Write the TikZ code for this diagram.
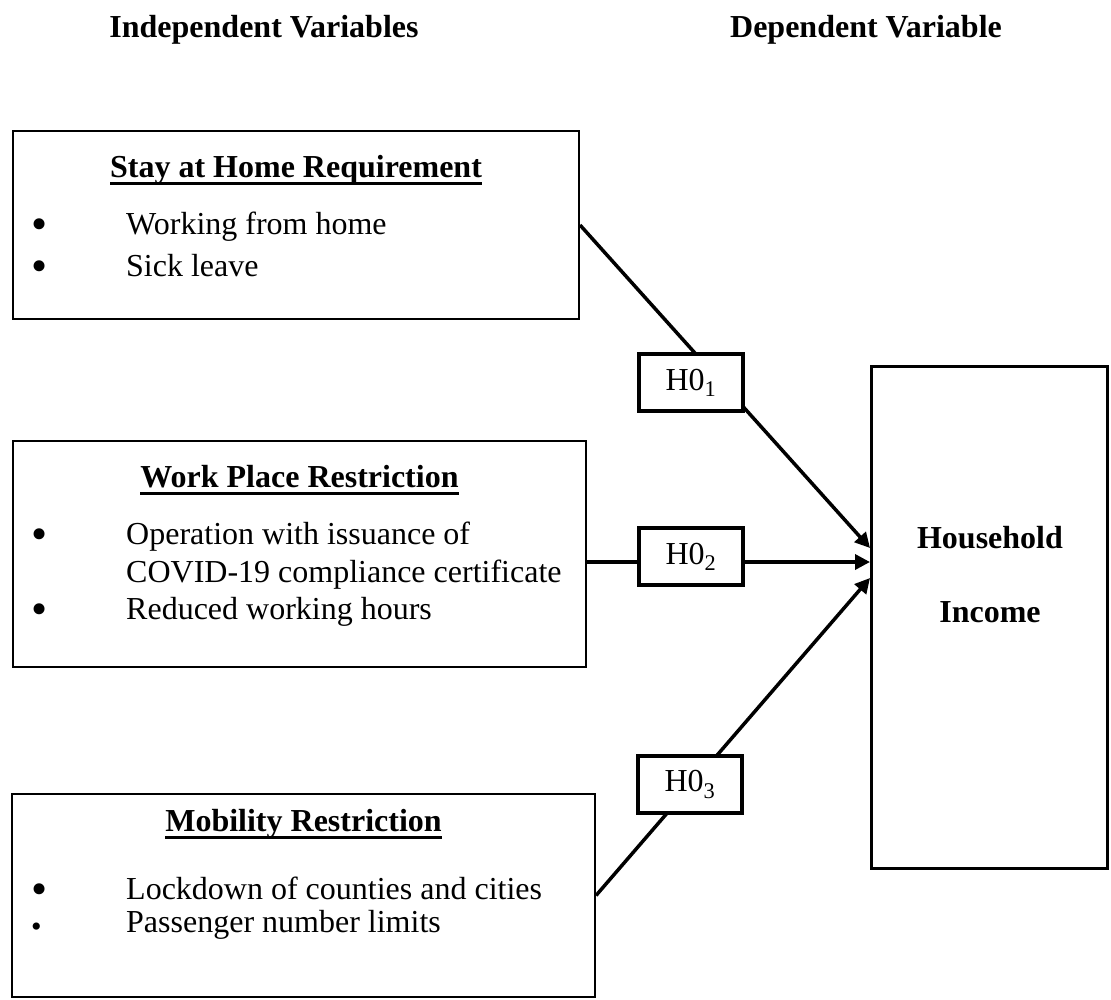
\documentclass[tikz,border=0pt]{standalone}
\usepackage{fontspec}
\setmainfont{Liberation Serif}
\usetikzlibrary{arrows.meta, positioning, calc}
\newcommand{\ulbold}[1]{\setbox0\hbox{#1}\rlap{\rule[-8pt]{\wd0}{3pt}}\box0}
\newcommand{\bul}{\makebox[95pt][l]{\smash{\raisebox{-5pt}{\fontsize{46}{46}\selectfont\textbullet}}}}
\newcommand{\smallbul}{\makebox[95pt][l]{\smash{\raisebox{-4pt}{\fontsize{30}{30}\selectfont\textbullet}}}}

\begin{document}
\begin{tikzpicture}[
        x=1pt, y=-1pt,
        every node/.style={inner sep=0pt, font=\fontsize{32}{37.5}\selectfont},
        varbox/.style={
            rectangle,
            draw=black,
            line width=2pt
        },
        hypbox/.style={
            rectangle,
            draw=black,
            fill=white,
            line width=4pt,
            minimum width=104pt,
            minimum height=57pt
        },
        head/.style={font=\fontsize{32}{37.5}\selectfont\bfseries},
        item/.style={anchor=west},
        arrow/.style={-{Triangle[length=15pt,width=15pt]}, line width=3.5pt}
    ]
    \useasboundingbox (0,0) rectangle (1111,1000);

    \node[head] (indep) at (264,30) {Independent Variables};
    \node[head] (dep) at (866,30) {Dependent Variable};

    % Independent variable boxes
    \node[varbox, minimum width=566pt, minimum height=188pt] (stay) at (296,225) {};
    \node[head] (stayT) at (296,170) {\ulbold{Stay at Home Requirement}};
    \node[item] (stayA) at (31,227) {\bul Working from home};
    \node[item] (stayB) at (31,266) {\bul Sick leave};

    \node[varbox, minimum width=573pt, minimum height=226pt] (work) at (299.5,554) {};
    \node[head] (workT) at (299.5,480) {\ulbold{Work Place Restriction}};
    \node[item] (workA) at (31,537) {\bul Operation with issuance of};
    \node[item] (workB) at (126,575) {COVID-19 compliance certificate};
    \node[item] (workC) at (31,612) {\bul Reduced working hours};

    \node[varbox, minimum width=583pt, minimum height=203pt] (mob) at (303.5,895.5) {};
    \node[head] (mobT) at (303.5,824) {\ulbold{Mobility Restriction}};
    \node[item] (mobA) at (31,888) {\bul Lockdown of counties and cities};
    \node[item] (mobB) at (31,925) {\smallbul Passenger number limits};

    % Dependent variable box
    \node[varbox, line width=3pt, minimum width=236pt, minimum height=502pt] (hh) at (989.5,617.5) {};
    \node[head] (hhA) at (990,538) {Household};
    \node[head] (hhB) at (990,612) {Income};

    \coordinate (inA) at ([yshift=69.5pt]hh.west);
    \coordinate (inB) at ([yshift=55.5pt]hh.west);
    \coordinate (inC) at ([yshift=39.5pt]hh.west);
    \coordinate (outB) at ([yshift=-8pt]work.east);

    % Hypothesis links
    \draw[arrow] (stay.east) -- (inA);
    \draw[arrow] (outB) -- (inB);
    \draw[arrow] (mob.east) -- (inC);

    \node[hypbox] (h1) at (691,382.5) {H0\textsubscript{1}};
    \node[hypbox] (h2) at (691,556.5) {H0\textsubscript{2}};
    \node[hypbox] (h3) at (690,784.5) {H0\textsubscript{3}};
\end{tikzpicture}
\end{document}
